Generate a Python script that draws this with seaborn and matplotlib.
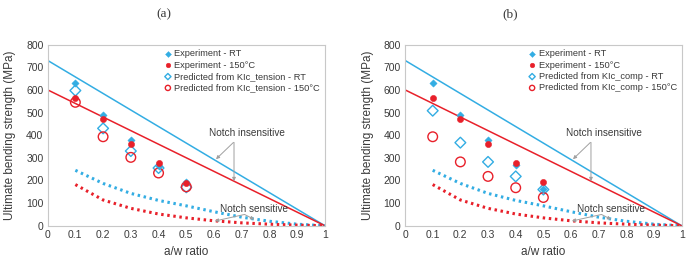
import numpy as np
import pandas as pd
import matplotlib
matplotlib.use("Agg")
import matplotlib.pyplot as plt
import seaborn as sns

# --- Data ---
aw = [0.1, 0.2, 0.3, 0.4, 0.5]

exp_rt = [632, 487, 378, 266, 192]
exp_150 = [563, 473, 362, 275, 188]

pred_tension_rt = [597, 430, 330, 255, 170]
pred_tension_150 = [545, 393, 302, 233, 172]

exp_rt_b = [632, 487, 378, 268, 162]
exp_150_b = [563, 473, 362, 275, 195]
pred_comp_rt = [508, 367, 282, 218, 160]
pred_comp_150 = [393, 282, 218, 168, 125]

# notch insensitive (straight lines)
ins_x = [0, 1]
ins_rt = [730, 0]
ins_150 = [600, 0]

# notch sensitive (dotted curves)
sens_x = [0.1, 0.2, 0.3, 0.4, 0.5, 0.6, 0.7, 0.8, 0.9, 1.0]
sens_rt = [245, 187, 143, 112, 88, 62, 38, 20, 7, 0]
sens_150 = [182, 114, 77, 52, 35, 22, 13, 7, 3, 0]

BLUE = "#33ADE3"
RED = "#E8202A"
GRAY = "#A0A0A0"
TXT = "#3A3A3A"

sns.set_theme(style="white")
plt.rcParams["font.family"] = ["Liberation Sans", "DejaVu Sans"]

fig = plt.figure(figsize=(6.9, 2.56), dpi=100)
ax_a = fig.add_axes([0.069, 0.118, 0.402, 0.708])
ax_b = fig.add_axes([0.587, 0.118, 0.401, 0.708])


def draw_panel(ax, e_rt, e_150, p_rt, p_150, kind):
    # model lines
    sns.lineplot(x=ins_x, y=ins_rt, ax=ax, color=BLUE, lw=1.1)
    sns.lineplot(x=ins_x, y=ins_150, ax=ax, color=RED, lw=1.1)
    sns.lineplot(x=sens_x, y=sens_rt, ax=ax, color=BLUE, lw=2.2,
                 linestyle=(0, (0.8, 1.2)))
    sns.lineplot(x=sens_x, y=sens_150, ax=ax, color=RED, lw=2.2,
                 linestyle=(0, (0.8, 1.2)))

    # data points
    sns.scatterplot(x=aw, y=e_rt, ax=ax, marker="D", s=14, color=BLUE,
                    edgecolor=BLUE, label="Experiment - RT", zorder=4)
    sns.scatterplot(x=aw, y=e_150, ax=ax, marker="o", s=20, color=RED,
                    edgecolor=RED, label="Experiment - 150°C", zorder=4)
    sns.scatterplot(x=aw, y=p_rt, ax=ax, marker="D", s=30, facecolor="none",
                    edgecolor=BLUE, linewidth=1.0,
                    label=f"Predicted from KIc_{kind} - RT", zorder=3)
    sns.scatterplot(x=aw, y=p_150, ax=ax, marker="o", s=48, facecolor="none",
                    edgecolor=RED, linewidth=1.0,
                    label=f"Predicted from KIc_{kind} - 150°C", zorder=3)

    ax.set_xlim(0, 1)
    ax.set_ylim(0, 800)
    ax.set_xticks(np.arange(0, 1.01, 0.1))
    ax.set_xticklabels(["0", "0.1", "0.2", "0.3", "0.4", "0.5",
                        "0.6", "0.7", "0.8", "0.9", "1"])
    ax.set_yticks(range(0, 801, 100))
    ax.tick_params(axis="both", labelsize=7.5, colors=TXT, pad=3)
    ax.tick_params(axis="x", length=2, color="#C8C8C8", direction="in")
    ax.tick_params(axis="y", length=0)
    for sp in ax.spines.values():
        sp.set_color("#C8C8C8")
        sp.set_linewidth(0.8)
    ax.set_xlabel("a/w ratio", fontsize=8.5, color=TXT, labelpad=4)
    ax.set_ylabel("Ultimate bending strength (MPa)", fontsize=8.5,
                  color=TXT, labelpad=7)

    leg = ax.legend(loc="upper right", bbox_to_anchor=(1.0, 1.0),
                    frameon=False, fontsize=6.7, handletextpad=0.2,
                    borderaxespad=0.12, labelspacing=0.25,
                    handlelength=1.0, labelcolor=TXT)
    for h, sz in zip(leg.legend_handles, [9, 11, 10, 14]):
        h.set_sizes([sz])

    # annotations
    arrow = dict(arrowstyle="-|>", color=GRAY, lw=0.7, mutation_scale=5,
                 shrinkA=0, shrinkB=0)
    ax.text(0.72, 408, "Notch insensitive", fontsize=7.2, color=TXT,
            ha="center", va="center")
    ax.annotate("", xy=(0.607, 294), xytext=(0.67, 368), arrowprops=arrow)
    ax.annotate("", xy=(0.672, 197), xytext=(0.672, 368), arrowprops=arrow)
    ax.text(0.745, 72, "Notch sensitive", fontsize=7.2, color=TXT,
            ha="center", va="center")
    ax.annotate("", xy=(0.603, 21), xytext=(0.71, 50), arrowprops=arrow)
    ax.annotate("", xy=(0.745, 28), xytext=(0.71, 50), arrowprops=arrow)


draw_panel(ax_a, exp_rt, exp_150, pred_tension_rt, pred_tension_150,
           "tension")
draw_panel(ax_b, exp_rt_b, exp_150_b, pred_comp_rt, pred_comp_150, "comp")

fig.text(0.238, 0.945, "(a)", fontsize=9.5, family="Liberation Serif",
         ha="center", va="center", color=TXT)
fig.text(0.74, 0.945, "(b)", fontsize=9.5, family="Liberation Serif",
         ha="center", va="center", color=TXT)

fig.savefig("out.png", dpi=100)
